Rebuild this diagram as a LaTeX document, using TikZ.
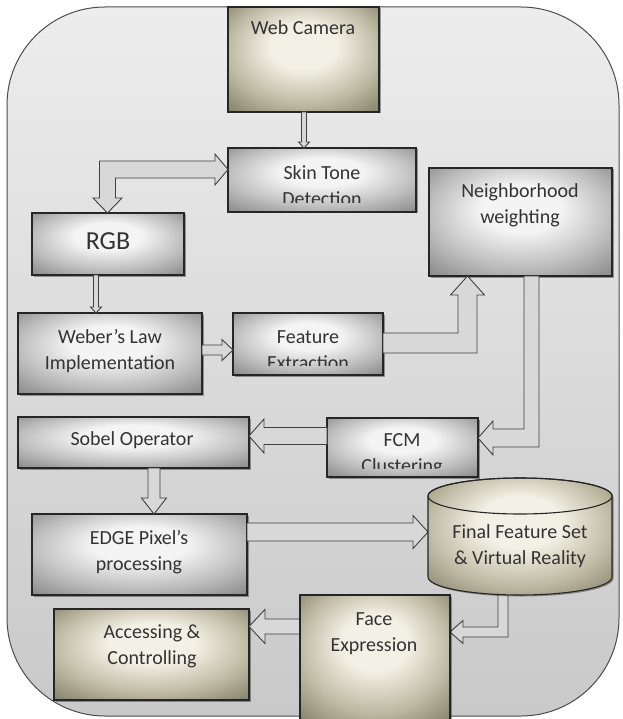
\documentclass[tikz,border=0pt]{standalone}
\usepackage{fontspec}
\setmainfont{Carlito}
\usetikzlibrary{shadows}
\definecolor{gL}{HTML}{F4F4F4}
\definecolor{gM}{HTML}{BDBDBD}
\definecolor{gD}{HTML}{8C8C8C}
\definecolor{oL}{HTML}{F3F1E5}
\definecolor{oM}{HTML}{BEBAA4}
\definecolor{oD}{HTML}{88846D}
\definecolor{bgT}{HTML}{EDEDED}
\definecolor{bgB}{HTML}{C9C9C9}
\definecolor{afill}{HTML}{D8D8D8}
\pgfdeclareradialshading{grayshade}{\pgfpoint{0bp}{8bp}}{color(0bp)=(gL); color(11bp)=(gL); color(25bp)=(gM); color(36bp)=(gD); color(50bp)=(gD)}
\pgfdeclareradialshading{oliveshade}{\pgfpoint{0bp}{8bp}}{color(0bp)=(oL); color(11bp)=(oL); color(25bp)=(oM); color(36bp)=(oD); color(50bp)=(oD)}
\tikzset{
  gbox/.style={draw=black!85, line width=1.1pt, shade, shading=grayshade, inner sep=0pt,
    drop shadow={shadow xshift=1.5pt, shadow yshift=-1.5pt, fill=black, opacity=0.35}},
  obox/.style={gbox, shading=oliveshade},
  barrow/.style={fill=afill, draw=black!75, line width=0.9pt, line join=miter},
  lbl/.style={font=\fontsize{20}{26}\selectfont, text=black!80, align=center, inner sep=0pt, anchor=base},
}
\begin{document}
\begin{tikzpicture}[x=1pt,y=-1pt]
\clip (0,0) rectangle (622,719);
\fill[white] (0,0) rectangle (622,719);
\path[draw=black!70, line width=1pt, top color=bgT, bottom color=bgB, rounded corners=98pt] (7,7) rectangle (619,716);

% boxes
\node[obox, minimum width=151pt, minimum height=105pt] (cam) at (303.5,59.5) {};
\node[gbox, minimum width=188pt, minimum height=64pt] (skin) at (322,180) {};
\node[gbox, minimum width=152pt, minimum height=62pt] (rgb) at (108,244) {};
\node[gbox, minimum width=183pt, minimum height=108pt] (nbr) at (520.5,222) {};
\node[gbox, minimum width=184pt, minimum height=81pt] (weber) at (110,353.5) {};
\node[gbox, minimum width=150pt, minimum height=62pt] (feat) at (308,344) {};
\node[gbox, minimum width=231pt, minimum height=51pt] (sobel) at (133.5,442.5) {};
\node[gbox, minimum width=151pt, minimum height=59pt] (fcm) at (402.5,447.5) {};
\node[gbox, minimum width=215pt, minimum height=81pt] (edge) at (139.5,554.5) {};
\node[obox, minimum width=195pt, minimum height=91pt] (acc) at (151.5,654.5) {};

% arrows
\filldraw[barrow] (301.5,112) -- (301.5,142) -- (298.5,142) -- (304,148) -- (309.5,142) -- (306.5,142) -- (306.5,112) -- cycle;
\filldraw[barrow] (107.5,213) -- (93,198) -- (99.5,198) -- (99.5,161) -- (215,161) -- (215,154) -- (228,169.5) -- (215,185) -- (215,178) -- (115.5,178) -- (115.5,198) -- (122,198) -- cycle;
\filldraw[barrow] (93.5,275) -- (93.5,307) -- (90.5,307) -- (96,313) -- (101.5,307) -- (98.5,307) -- (98.5,275) -- cycle;
\filldraw[barrow] (202,345) -- (222,345) -- (222,339.5) -- (233,350) -- (222,360.5) -- (222,355) -- (202,355) -- cycle;
\filldraw[barrow] (383,333) -- (458,333) -- (458,295) -- (450.5,295) -- (467.5,276) -- (484.5,295) -- (477,295) -- (477,353) -- (383,353) -- cycle;
\filldraw[barrow] (524,276) -- (539,276) -- (539,447) -- (493,447) -- (493,455) -- (478,438) -- (493,421) -- (493,429) -- (524,429) -- cycle;
\filldraw[barrow] (327,427.5) -- (264,427.5) -- (264,419) -- (249,436) -- (264,453) -- (264,444.5) -- (327,444.5) -- cycle;
\filldraw[barrow] (148,468) -- (148,498) -- (141.5,498) -- (154,514) -- (166.5,498) -- (160,498) -- (160,468) -- cycle;
\filldraw[barrow] (247,523) -- (413,523) -- (413,515.5) -- (428,532) -- (413,548.5) -- (413,541) -- (247,541) -- cycle;
\filldraw[barrow] (498,590) -- (508,590) -- (508,637) -- (463,637) -- (463,643.5) -- (450,632) -- (463,620.5) -- (463,627) -- (498,627) -- cycle;
\filldraw[barrow] (300,619) -- (265,619) -- (265,609.5) -- (249,626.5) -- (265,643.5) -- (265,634) -- (300,634) -- cycle;

% cylinder
\path[draw=black!85, line width=1.1pt, shade, shading=oliveshade, drop shadow={shadow xshift=1.5pt, shadow yshift=-1.5pt, fill=black, opacity=0.35}]
  (428,496) -- (428,577) arc[start angle=180, end angle=0, x radius=92, y radius=18]
  -- (612,496) arc[start angle=0, end angle=-180, x radius=92, y radius=18] -- cycle;
\draw[black!85, line width=1.1pt] (520,496) ellipse [x radius=92, y radius=18];

\node[obox, minimum width=150pt, minimum height=127pt] (face) at (375,658.5) {};

% labels (anchor=base is the baseline of the last line)
\node[lbl] (camT) at (303,35) {Web Camera};
\begin{scope}
\clip (228,148) rectangle (416,203);
\node[lbl] (skinT) at (322,206) {Skin Tone\\Detection};
\end{scope}
\node[lbl, font=\fontsize{26}{30}\selectfont] (rgbT) at (108,249) {RGB};
\node[lbl] (nbrT) at (520,223) {Neighborhood\\weighting};
\node[lbl] (weberT) at (110,369) {Weber’s Law\\Implementation};
\begin{scope}
\clip (233,313) rectangle (383,365);
\node[lbl] (featT) at (308,369) {Feature\\Extraction};
\end{scope}
\node[lbl] (sobelT) at (132,445) {Sobel Operator};
\begin{scope}
\clip (327,418) rectangle (478,468);
\node[lbl] (fcmT) at (402,472) {FCM\\Clustering};
\end{scope}
\node[lbl] (edgeT) at (139,570) {EDGE Pixel’s\\processing};
\node[lbl] (finalT) at (520,564) {Final Feature Set\\\& Virtual Reality};
\node[lbl] (faceT) at (374,651) {Face\\Expression};
\node[lbl] (accT) at (152,664) {Accessing \&\\Controlling};
\end{tikzpicture}
\end{document}
